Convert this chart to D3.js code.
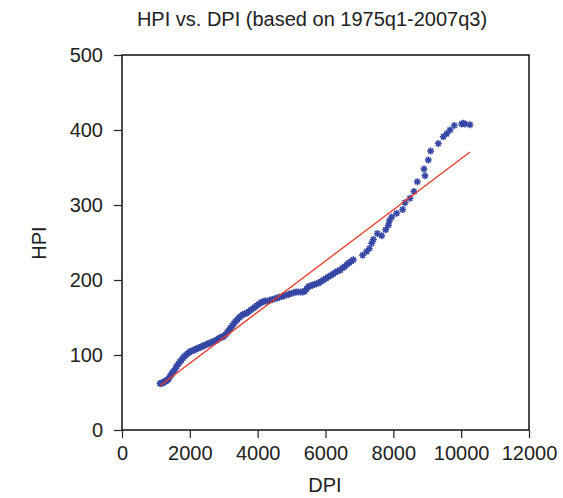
<!DOCTYPE html>
<html>
<head>
<meta charset="utf-8">
<script src="https://cdnjs.cloudflare.com/ajax/libs/d3/7.8.5/d3.min.js"></script>
<style>
  body { margin: 0; background: #fff; }
  text { font-family: "Liberation Sans", Arial, Helvetica, sans-serif; fill: #222; }
</style>
</head>
<body>
<div id="main"></div>
<script>
// quarterly points 1975q1-2007q3
var dpi = [1120,1150,1180,1210,1245,1280,1315,1350,1385,1420,1455,1495,1535,1575,1615,1660,1705,1750,1795,1840,
  1890,1940,1990,2040,2090,2140,2190,2240,2290,2340,2390,2440,2490,2540,2590,2645,2700,2750,2800,2850,
  2900,2950,3000,3050,3100,3150,3200,3250,3300,3350,3400,3455,3510,3565,3620,3680,3740,3800,3860,3920,
  3980,4040,4100,4160,4220,4290,4360,4430,4500,4570,4640,4710,4780,4850,4920,4990,5060,5130,5200,5270,
  5330,5390,5440,5490,5550,5610,5670,5730,5800,5870,5940,6010,6080,6150,6220,6290,6360,6430,6500,6570,
  6640,6700,6760,6821,7096,7214,7293,7362,7411,7529,7657,7775,7854,7884,7952,8099,8275,8344,8491,8609,
  8707,8934,8904,9031,9100,9326,9474,9572,9671,9798,10015,10060,10113,10260];
var hpi = [62,62,63,63,64,65,66,67,69,72,74,77,79,82,85,88,91,93,96,98,
  100,102,104,105,106,107,108,109,110,111,112,113,114,115,116,117,118,119,120,122,
  123,124,125,127,130,133,136,139,142,145,147,150,152,154,155,156,158,160,162,164,
  166,168,170,171,172,172,173,174,175,176,177,178,179,180,181,182,183,184,184,184,
  184,185,188,191,192,193,194,195,196,198,200,202,204,206,208,210,212,213,216,218,
  221,223,225,227,233,238,242,249,254,262,259,267,273,279,284,289,294,303,309,318,
  331,339,348,360,372,382,391,395,400,406,408,409,408,407];
// fitted line HPI = a + b*DPI, drawn over the DPI range
var fitA = 20.8, fitB = 0.0341;
var fitRange = [1120, 10260];
var xTicks = [0,2000,4000,6000,8000,10000,12000];
var yTicks = [0,100,200,300,400,500];

var data = dpi.map(function(d, i) { return {x: d, y: hpi[i]}; });

var svg = d3.select("#main").append("svg")
  .attr("width", 563)
  .attr("height", 498);

var mLeft = 122, mRight = 529, mTop = 55, mBottom = 430;
var x = d3.scaleLinear().domain([0, 12000]).range([mLeft, mRight]);
var y = d3.scaleLinear().domain([0, 500]).range([mBottom, mTop]);

// 8-armed star marker
var star = {
  draw: function(ctx, size) {
    var r = Math.sqrt(size) / 2, k = r * Math.SQRT1_2;
    ctx.moveTo(-r, 0); ctx.lineTo(r, 0);
    ctx.moveTo(0, -r); ctx.lineTo(0, r);
    ctx.moveTo(-k, -k); ctx.lineTo(k, k);
    ctx.moveTo(-k, k); ctx.lineTo(k, -k);
  }
};

svg.append("g").selectAll("path").data(data).enter().append("path")
  .attr("transform", function(d) { return "translate(" + x(d.x) + "," + y(d.y) + ")"; })
  .attr("d", d3.symbol().type(star).size(49))
  .attr("fill", "none")
  .attr("stroke", "#3546a4")
  .attr("stroke-width", 1.6);//draw stars

svg.append("line")
  .attr("x1", x(fitRange[0])).attr("y1", y(fitA + fitB * fitRange[0]))
  .attr("x2", x(fitRange[1])).attr("y2", y(fitA + fitB * fitRange[1]))
  .attr("stroke", "#e8392c")
  .attr("stroke-width", 1.3);//fit line

svg.append("rect")
  .attr("x", mLeft).attr("y", mTop)
  .attr("width", mRight - mLeft).attr("height", mBottom - mTop)
  .attr("fill", "none")
  .attr("stroke", "#111")
  .attr("stroke-width", 1.5);//frame

var xAxis = d3.axisBottom(x).tickValues(xTicks).tickSize(8).tickPadding(8).tickFormat(d3.format("d"));
var gx = svg.append("g").attr("transform", "translate(0," + mBottom + ")").call(xAxis);
var yAxis = d3.axisLeft(y).tickValues(yTicks).tickSize(8).tickPadding(11).tickFormat(d3.format("d"));
var gy = svg.append("g").attr("transform", "translate(" + mLeft + ",0)").call(yAxis);
[gx, gy].forEach(function(g) {
  g.select(".domain").remove();
  g.selectAll("line").attr("stroke", "#222").attr("stroke-width", 1.2);
  g.selectAll("text").style("font-family", "Liberation Sans, Arial, sans-serif").style("font-size", "20px").attr("fill", "#222");
});

svg.append("text")
  .attr("x", 312).attr("y", 26)
  .style("text-anchor", "middle")
  .style("font-size", "20px")
  .text("HPI vs. DPI (based on 1975q1-2007q3)");//title
svg.append("text")
  .attr("x", 325).attr("y", 492)
  .style("text-anchor", "middle")
  .style("font-size", "20px")
  .text("DPI");
svg.append("text")
  .attr("transform", "translate(46, 243) rotate(-90)")
  .style("text-anchor", "middle")
  .style("font-size", "20px")
  .text("HPI");
</script>
</body>
</html>
